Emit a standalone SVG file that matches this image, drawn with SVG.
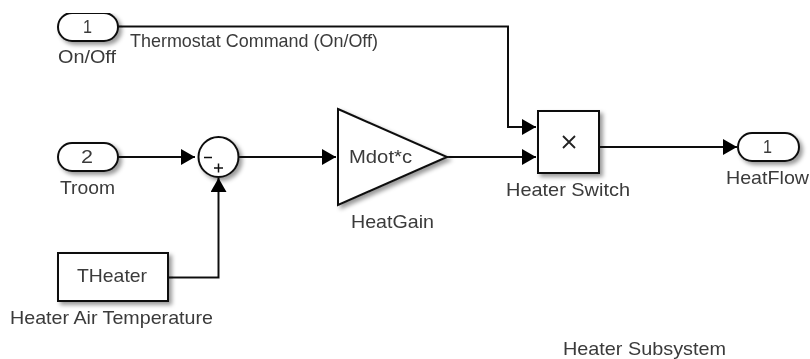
<svg xmlns="http://www.w3.org/2000/svg" width="810" height="359" viewBox="0 0 810 359">
<style>
.b{fill:#fff;stroke:#111;stroke-width:2;filter:url(#sh)}
.t{font-family:"Liberation Sans",Arial,sans-serif;font-size:18.500px;fill:#3a3a3a}
.c{fill:none;stroke:#111;stroke-width:2}
</style>
<defs>
<filter id="sh" x="-20%" y="-20%" width="150%" height="150%"><feDropShadow dx="3" dy="3" stdDeviation="2.2" flood-color="#000" flood-opacity="0.4"/></filter>
<filter id="soft" x="0" y="0" width="100%" height="100%"><feGaussianBlur stdDeviation="0.55"/></filter>
<marker id="a" markerUnits="userSpaceOnUse" markerWidth="16" markerHeight="16" refX="14" refY="8" orient="auto"><path d="M0 0L14 8L0 16Z" fill="#000"/></marker>
</defs>
<rect width="810" height="359" fill="#fff"/>
<g filter="url(#soft)">
<g id="connectors">
<path class="c" d="M118 26.500H508V127H536" marker-end="url(#a)"/>
<path class="c" d="M118 157H195" marker-end="url(#a)"/>
<path class="c" d="M239 157H336" marker-end="url(#a)"/>
<path class="c" d="M168 277.500H218.500V178" marker-end="url(#a)"/>
<path class="c" d="M447 157H536" marker-end="url(#a)"/>
<path class="c" d="M599 147H737" marker-end="url(#a)"/>
</g>
<g id="inport1"><rect class="b" x="58" y="13" width="60" height="28" rx="14"/><text class="t" x="83" y="33" textLength="9" lengthAdjust="spacingAndGlyphs">1</text><text class="t" x="58" y="63" textLength="58" lengthAdjust="spacingAndGlyphs">On/Off</text></g>
<text class="t" x="130" y="47" textLength="248" lengthAdjust="spacingAndGlyphs">Thermostat Command (On/Off)</text>
<g id="inport2"><rect class="b" x="58" y="143" width="60" height="28" rx="14"/><text class="t" x="81" y="163" textLength="12" lengthAdjust="spacingAndGlyphs">2</text><text class="t" x="60" y="194" textLength="55" lengthAdjust="spacingAndGlyphs">Troom</text></g>
<g id="sum"><circle class="b" cx="218.500" cy="157" r="20"/><path d="M204 157.500H212M214 168H223M218.500 163.500V172.500" stroke="#111" stroke-width="1.500" fill="none"/></g>
<g id="gain"><path class="b" d="M338 109L447 157L338 205Z"/><text class="t" x="349" y="163" textLength="63" lengthAdjust="spacingAndGlyphs">Mdot*c</text><text class="t" x="351" y="228" textLength="83" lengthAdjust="spacingAndGlyphs">HeatGain</text></g>
<g id="heaterAirTemp"><rect class="b" x="58" y="253" width="110" height="48"/><text class="t" x="77" y="282" textLength="70" lengthAdjust="spacingAndGlyphs">THeater</text><text class="t" x="10" y="324" textLength="203" lengthAdjust="spacingAndGlyphs">Heater Air Temperature</text></g>
<g id="heaterSwitch"><rect class="b" x="538" y="111" width="61" height="62"/><path d="M563 136L575 148M575 136L563 148" stroke="#222" stroke-width="1.800" fill="none"/><text class="t" x="506" y="196" textLength="124" lengthAdjust="spacingAndGlyphs">Heater Switch</text></g>
<g id="outport"><rect class="b" x="738" y="133" width="61" height="28" rx="14"/><text class="t" x="763" y="153" textLength="9" lengthAdjust="spacingAndGlyphs">1</text><text class="t" x="726" y="184" textLength="83" lengthAdjust="spacingAndGlyphs">HeatFlow</text></g>
<text class="t" x="563" y="355" textLength="163" lengthAdjust="spacingAndGlyphs">Heater Subsystem</text>
</g>
</svg>
